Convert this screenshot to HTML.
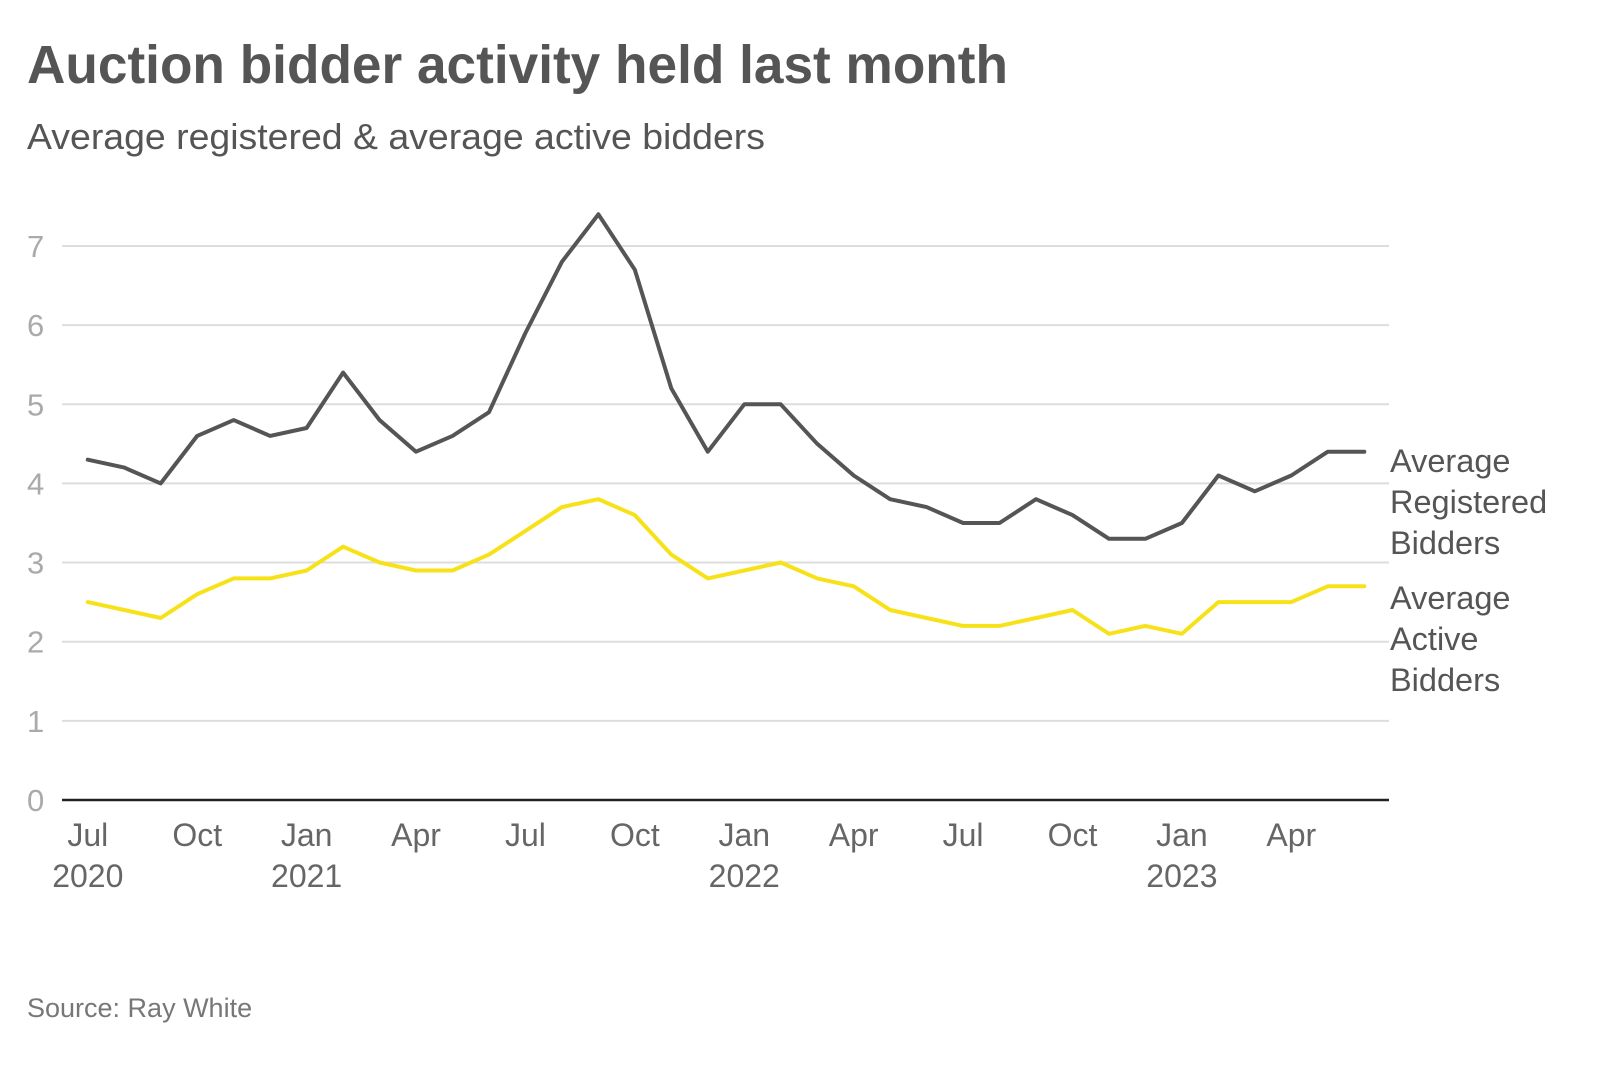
<!DOCTYPE html>
<html><head><meta charset="utf-8"><style>
html,body{margin:0;padding:0;background:#fff;width:1600px;height:1084px;overflow:hidden}
svg{display:block;font-family:"Liberation Sans",sans-serif}
</style></head><body>
<svg id="s" width="1600" height="1084" xmlns="http://www.w3.org/2000/svg">
<text x="27" y="83" font-size="54" font-weight="bold" fill="#555" textLength="981" lengthAdjust="spacingAndGlyphs">Auction bidder activity held last month</text>
<text x="27" y="149" font-size="36" fill="#555" textLength="738" lengthAdjust="spacingAndGlyphs">Average registered &amp; average active bidders</text>
<g id="grid"></g>
<g id="lines"></g>
<g font-size="32.5" fill="#555">
<text x="1390" y="472">Average</text>
<text x="1390" y="513">Registered</text>
<text x="1390" y="554">Bidders</text>
<text x="1390" y="609">Average</text>
<text x="1390" y="650">Active</text>
<text x="1390" y="691">Bidders</text>
</g>
<text x="27" y="1017" font-size="27" fill="#777">Source: Ray White</text>
</svg>
<script>
var ns="http://www.w3.org/2000/svg";
function el(t,a,p,txt){var e=document.createElementNS(ns,t);for(var k in a)e.setAttribute(k,a[k]);if(txt!==undefined)e.textContent=txt;p.appendChild(e);return e;}
var g=document.getElementById('grid'),L=document.getElementById('lines');
var x0=87.8,dx=36.47,y0=800,u=79.15;
for(var i=0;i<=7;i++){var y=y0-i*u;
 if(i>0)el('line',{x1:62,x2:1389,y1:y,y2:y,stroke:'#ddd','stroke-width':2},g);
 el('text',{x:27,y:y+11,'font-size':31,fill:'#aaa'},g,String(i));}
el('line',{x1:62,x2:1389,y1:y0,y2:y0,stroke:'#222','stroke-width':2.5},g);
var mon=[[0,'Jul','2020'],[3,'Oct'],[6,'Jan','2021'],[9,'Apr'],[12,'Jul'],[15,'Oct'],[18,'Jan','2022'],[21,'Apr'],[24,'Jul'],[27,'Oct'],[30,'Jan','2023'],[33,'Apr']];
mon.forEach(function(m){var x=x0+m[0]*dx;
 el('text',{x:x,y:846,'font-size':32,fill:'#666','text-anchor':'middle'},g,m[1]);
 if(m[2])el('text',{x:x,y:887,'font-size':32,fill:'#666','text-anchor':'middle'},g,m[2]);});
var reg=[4.3,4.2,4.0,4.6,4.8,4.6,4.7,5.4,4.8,4.4,4.6,4.9,5.9,6.8,7.4,6.7,5.2,4.4,5.0,5.0,4.5,4.1,3.8,3.7,3.5,3.5,3.8,3.6,3.3,3.3,3.5,4.1,3.9,4.1,4.4,4.4];
var act=[2.5,2.4,2.3,2.6,2.8,2.8,2.9,3.2,3.0,2.9,2.9,3.1,3.4,3.7,3.8,3.6,3.1,2.8,2.9,3.0,2.8,2.7,2.4,2.3,2.2,2.2,2.3,2.4,2.1,2.2,2.1,2.5,2.5,2.5,2.7,2.7];
function pts(a){return a.map(function(v,i){return (x0+i*dx).toFixed(1)+','+(y0-v*u).toFixed(1)}).join(' ');}
el('polyline',{points:pts(act),fill:'none',stroke:'#f7e21a','stroke-width':4,'stroke-linejoin':'round','stroke-linecap':'round'},L);
el('polyline',{points:pts(reg),fill:'none',stroke:'#555','stroke-width':4,'stroke-linejoin':'round','stroke-linecap':'round'},L);
</script>
</body></html>
